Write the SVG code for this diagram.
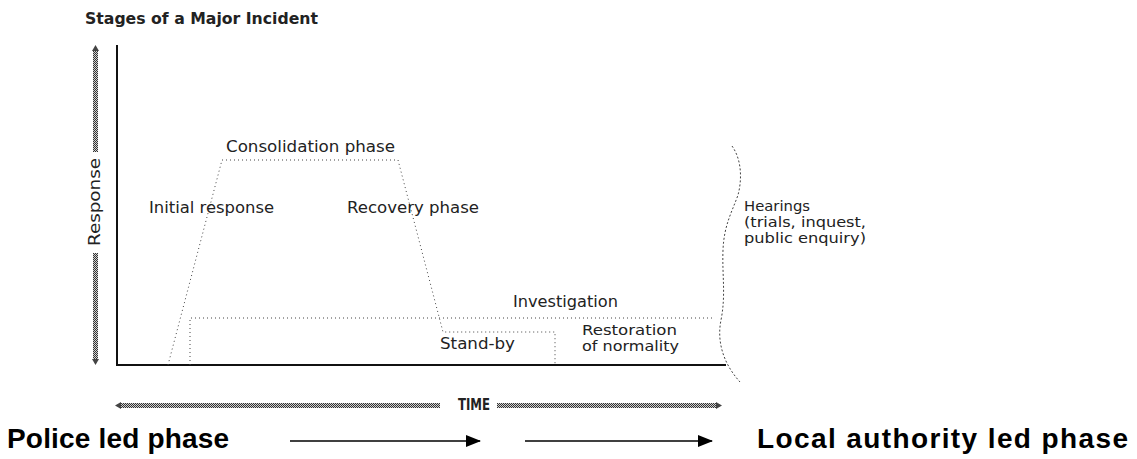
<svg xmlns="http://www.w3.org/2000/svg" width="1137" height="459" viewBox="0 0 1137 459">
<defs>
<pattern id="chk" width="2" height="2" patternUnits="userSpaceOnUse">
<rect width="2" height="2" fill="#cfcfcf"/>
<rect width="1" height="1" fill="#333"/>
<rect x="1" y="1" width="1" height="1" fill="#333"/>
</pattern>
<marker id="arr" markerWidth="15" markerHeight="12" refX="14" refY="6" orient="auto" markerUnits="userSpaceOnUse"><path d="M0,0 L15,6 L0,12 z" fill="#000"/></marker>
</defs>
<style>
.lbl{font-family:"DejaVu Sans","Liberation Sans",Arial,sans-serif;font-size:16px;fill:#222}
.sm{font-size:13.5px}
.big{font-family:"Liberation Sans",Arial,sans-serif;font-size:28px;font-weight:bold;fill:#000}
.dot{fill:none;stroke:#444;stroke-width:1;stroke-dasharray:1 3}
.axis{fill:none;stroke:#111;stroke-width:2}
.chk{fill:url(#chk)}
.tip{fill:#444}
</style>
<rect width="1137" height="459" fill="#fff"/>

<g id="title"><text class="lbl" x="85" y="24" font-size="14" font-weight="bold" textLength="233" lengthAdjust="spacingAndGlyphs">Stages of a Major Incident</text></g>

<g id="connectors">
<path class="axis" d="M117,45 V365 H726"/>
<path class="dot" d="M168,365 L222,160 L398,160 L443,332 L555,332 L555,365"/>
<path class="dot" d="M190,365 L190,318 L714,318"/>
<path d="M732,146 C742,160 742,180 738,195 C732,212 724,225 723,250 C722,275 726,295 721,320 C717,340 722,362 740,382" fill="none" stroke="#444" stroke-width="1" stroke-dasharray="2 2"/>
<rect class="chk" x="93" y="50" width="5" height="102"/>
<polygon class="tip" points="95.5,45 92,51 99,51"/>
<rect class="chk" x="93" y="253" width="5" height="107"/>
<polygon class="tip" points="95.5,365 92,359 99,359"/>
<rect class="chk" x="120" y="403" width="320" height="5"/>
<polygon class="tip" points="115,405.5 121,402 121,409"/>
<rect class="chk" x="497" y="403" width="220" height="5"/>
<polygon class="tip" points="722,405.5 716,402 716,409"/>
<line x1="290" y1="441" x2="480" y2="441" stroke="#000" stroke-width="1.5" marker-end="url(#arr)"/>
<line x1="525" y1="441" x2="712" y2="441" stroke="#000" stroke-width="1.5" marker-end="url(#arr)"/>
</g>

<g id="response"><text class="lbl" transform="translate(100,202) rotate(-90)" text-anchor="middle" textLength="88" lengthAdjust="spacingAndGlyphs">Response</text></g>
<g id="consolidation"><text class="lbl" x="226" y="152" textLength="169" lengthAdjust="spacingAndGlyphs">Consolidation phase</text></g>
<g id="initial"><text class="lbl" x="149" y="213" textLength="125" lengthAdjust="spacingAndGlyphs">Initial response</text></g>
<g id="recovery"><text class="lbl" x="347" y="213" textLength="132" lengthAdjust="spacingAndGlyphs">Recovery phase</text></g>
<g id="investigation"><text class="lbl" x="513" y="307" textLength="105" lengthAdjust="spacingAndGlyphs">Investigation</text></g>
<g id="standby"><text class="lbl" x="440" y="349" textLength="75" lengthAdjust="spacingAndGlyphs">Stand-by</text></g>
<g id="restoration"><text class="lbl sm" x="582" y="335" textLength="95" lengthAdjust="spacingAndGlyphs">Restoration</text><text class="lbl sm" x="582" y="351" textLength="97" lengthAdjust="spacingAndGlyphs">of normality</text></g>
<g id="hearings"><text class="lbl sm" x="744" y="211" textLength="66" lengthAdjust="spacingAndGlyphs">Hearings</text><text class="lbl sm" x="744" y="227" textLength="122" lengthAdjust="spacingAndGlyphs">(trials, inquest,</text><text class="lbl sm" x="744" y="243" textLength="122" lengthAdjust="spacingAndGlyphs">public enquiry)</text></g>
<g id="time"><text class="lbl" x="458" y="410" font-family="Liberation Sans, Arial, sans-serif" font-size="15" font-weight="bold" textLength="32" lengthAdjust="spacingAndGlyphs">TIME</text></g>
<g id="police"><text class="big" x="7" y="448" textLength="222" lengthAdjust="spacing">Police led phase</text></g>
<g id="local"><text class="big" x="757" y="448" textLength="371" lengthAdjust="spacing">Local authority led phase</text></g>
</svg>
